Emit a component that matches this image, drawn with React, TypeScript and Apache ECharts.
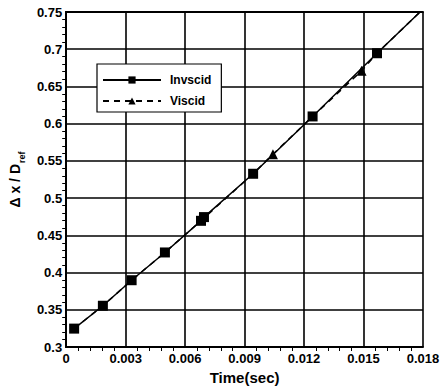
import React, { useEffect, useRef } from "react";
import * as echarts from "echarts";

// Time (s) and normalised displacement for the inviscid run (marked points)
const invTime = [0.0004, 0.00185, 0.0033, 0.00498, 0.0068, 0.00695, 0.00943, 0.01243, 0.01568];
const invDx = [0.3247, 0.3554, 0.3897, 0.427, 0.4695, 0.4745, 0.5327, 0.6097, 0.6946];
// Continuation of the inviscid curve past the last marker
const invTailTime = [0.01785];
const invTailDx = [0.75];

// Viscid run: the curve overlaps the inviscid one; triangles mark its samples
const visLineTime = [0.0004, 0.00185, 0.0033, 0.00498, 0.0069, 0.00943, 0.01043, 0.01243, 0.0149, 0.01568, 0.01785];
const visLineDx = [0.3247, 0.3554, 0.3897, 0.427, 0.472, 0.5327, 0.559, 0.6097, 0.671, 0.6946, 0.75];
const visMarkTime = [0.01043, 0.0149];

const xTickLabels = ["0", "0.003", "0.006", "0.009", "0.012", "0.015", "0.018"];
const yTickLabels = ["0.3", "0.35", "0.4", "0.45", "0.5", "0.55", "0.6", "0.65", "0.7", "0.75"];

const FONT = "'Liberation Sans', Arial, sans-serif";

export default function App() {
  const ref = useRef<HTMLDivElement>(null);

  useEffect(() => {
    if (!ref.current) return;
    const chart = echarts.init(ref.current, undefined, { renderer: "svg" });

    const invData: any[] = invTime.map((t, i) => [t, invDx[i]]);
    invTailTime.forEach((t, i) => invData.push({ value: [t, invTailDx[i]], symbol: "none" }));

    const visData: any[] = visLineTime.map((t, i) =>
      visMarkTime.includes(t)
        ? [t, visLineDx[i]]
        : { value: [t, visLineDx[i]], symbol: "none" }
    );

    const axisLabelStyle = {
      color: "#000",
      fontFamily: FONT,
      fontWeight: "bold" as const,
      fontSize: 13,
    };

    chart.setOption({
      animation: false,
      backgroundColor: "#fff",
      grid: { left: 63, right: 25, top: 12, bottom: 37, containLabel: false },
      legend: {
        left: 97,
        top: 64,
        orient: "vertical",
        backgroundColor: "#fff",
        borderColor: "#000",
        borderWidth: 1.2,
        padding: [10, 10, 5, 5],
        itemWidth: 58,
        itemHeight: 9,
        itemGap: 9,
        textStyle: { color: "#000", fontFamily: FONT, fontWeight: "bold", fontSize: 12, padding: [0, 0, 0, 4] },
        data: ["Invscid", "Viscid"],
      },
      xAxis: [
        {
          type: "value",
          min: 0,
          max: 0.018,
          interval: 0.003,
          name: "Time(sec)",
          nameLocation: "middle",
          nameGap: 23,
          nameTextStyle: { color: "#000", fontFamily: FONT, fontWeight: "bold", fontSize: 15 },
          axisLine: { show: true, lineStyle: { color: "#000", width: 2 } },
          axisTick: { show: false },
          minorTick: { show: true, splitNumber: 5, length: 4, lineStyle: { color: "#000", width: 1 } },
          axisLabel: {
            ...axisLabelStyle,
            margin: 5,
            formatter: (v: number) => xTickLabels[Math.round(v / 0.003)] ?? "",
          },
          splitLine: { show: true, lineStyle: { color: "#000", width: 1.6 } },
        },
        {
          type: "value",
          position: "top",
          min: 0,
          max: 0.018,
          interval: 0.003,
          axisLine: { show: true, lineStyle: { color: "#000", width: 2 } },
          axisTick: { show: false },
          axisLabel: { show: false },
          splitLine: { show: false },
        },
      ],
      yAxis: [
        {
          type: "value",
          min: 0.3,
          max: 0.75,
          interval: 0.05,
          name: "{a|Δ x / D}{b|ref}",
          nameLocation: "middle",
          nameGap: 34,
          nameRotate: 90,
          nameTextStyle: {
            rich: {
              a: {
                color: "#000",
                fontFamily: FONT,
                fontWeight: "bold",
                fontSize: 14,
                verticalAlign: "bottom",
                padding: [0, 1, 4, 0],
              },
              b: {
                color: "#000",
                fontFamily: FONT,
                fontWeight: "bold",
                fontSize: 9,
                verticalAlign: "bottom",
              },
            },
          },
          axisLine: { show: true, lineStyle: { color: "#000", width: 2 } },
          axisTick: { show: false },
          minorTick: { show: true, splitNumber: 5, length: 4, lineStyle: { color: "#000", width: 1 } },
          axisLabel: {
            ...axisLabelStyle,
            margin: 4,
            formatter: (v: number) => yTickLabels[Math.round((v - 0.3) / 0.05)] ?? "",
          },
          splitLine: { show: true, lineStyle: { color: "#000", width: 1.6 } },
        },
        {
          type: "value",
          position: "right",
          min: 0.3,
          max: 0.75,
          interval: 0.05,
          axisLine: { show: true, lineStyle: { color: "#000", width: 2 } },
          axisTick: { show: false },
          axisLabel: { show: false },
          splitLine: { show: false },
        },
      ],
      series: [
        {
          name: "Viscid",
          type: "line",
          data: visData,
          symbol: "triangle",
          symbolSize: 10,
          showAllSymbol: true,
          itemStyle: { color: "#000" },
          lineStyle: { color: "#000", width: 1.5, type: [6, 5] },
          z: 2,
        },
        {
          name: "Invscid",
          type: "line",
          data: invData,
          symbol: "rect",
          symbolSize: 10,
          showAllSymbol: true,
          itemStyle: { color: "#000" },
          lineStyle: { color: "#000", width: 1.5 },
          z: 3,
        },
      ],
    });

    return () => chart.dispose();
  }, []);

  return (
    <div
      ref={ref}
      style={{ position: "fixed", left: 0, top: 0, width: 448, height: 390 }}
    />
  );
}
